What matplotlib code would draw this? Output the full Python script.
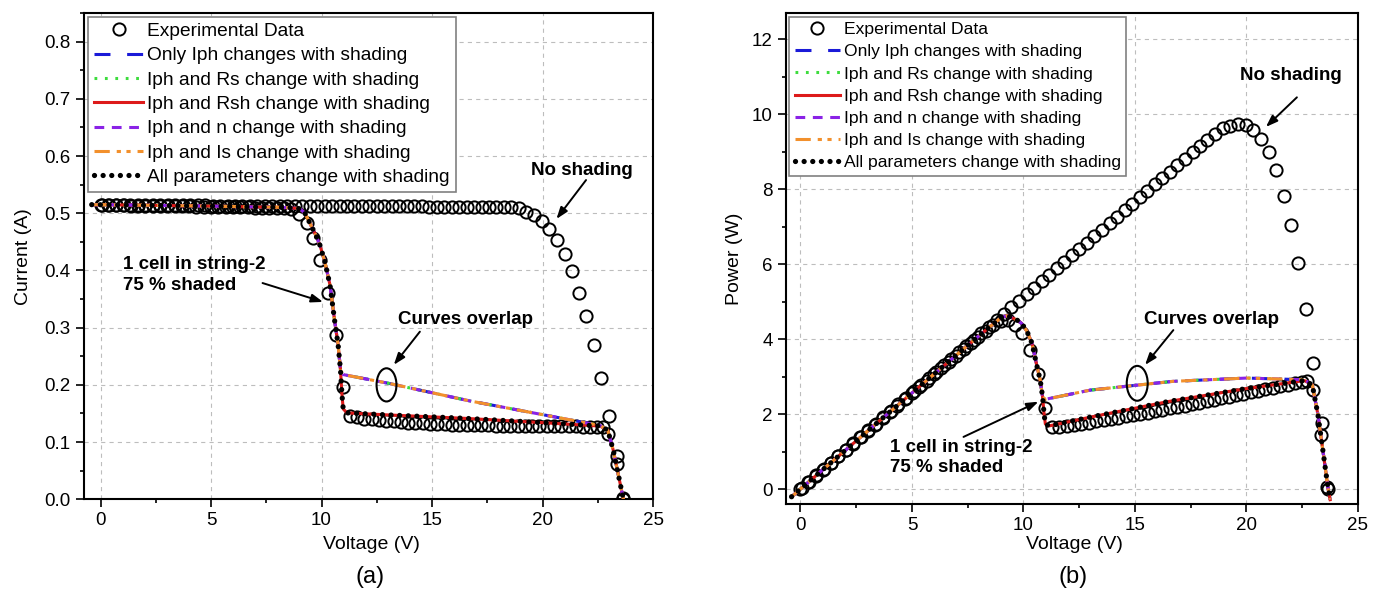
import matplotlib
matplotlib.use("Agg")
import matplotlib.pyplot as plt
from matplotlib.patches import Ellipse
from matplotlib.ticker import MultipleLocator, FormatStrFormatter
import numpy as np

plt.rcParams["font.family"] = ["Liberation Sans", "DejaVu Sans"]
plt.rcParams["lines.scale_dashes"] = False

# ---- experimental data, no shading ----
v_ns = [0.00, 0.34, 0.68, 1.01, 1.35, 1.69, 2.03, 2.37, 2.70, 3.04,
        3.38, 3.72, 4.06, 4.39, 4.73, 5.07, 5.41, 5.75, 6.08, 6.42,
        6.76, 7.10, 7.44, 7.77, 8.11, 8.45, 8.79, 9.13, 9.46, 9.80,
        10.14, 10.48, 10.82, 11.15, 11.49, 11.83, 12.17, 12.51, 12.84, 13.18,
        13.52, 13.86, 14.20, 14.53, 14.87, 15.21, 15.55, 15.89, 16.22, 16.56,
        16.90, 17.24, 17.58, 17.91, 18.25, 18.59,
        18.94, 19.27, 19.62, 19.96, 20.30, 20.64, 21.00, 21.34, 21.66, 21.99,
        22.32, 22.66, 23.00, 23.39, 23.62]
i_ns = [0.5145, 0.5145, 0.5145, 0.5145, 0.5145, 0.5145, 0.5145, 0.5145, 0.5140, 0.5140,
        0.5140, 0.5140, 0.5140, 0.5140, 0.5140, 0.5135, 0.5135, 0.5135, 0.5135, 0.5135,
        0.5130, 0.5130, 0.5130, 0.5130, 0.5130, 0.5130, 0.5128, 0.5128, 0.5128, 0.5125,
        0.5125, 0.5125, 0.5125, 0.5125, 0.5122, 0.5122, 0.5122, 0.5120, 0.5120, 0.5120,
        0.5120, 0.5118, 0.5118, 0.5118, 0.5115, 0.5115, 0.5115, 0.5115, 0.5113, 0.5113,
        0.5113, 0.5110, 0.5110, 0.5108, 0.5105, 0.5102,
        0.509, 0.503, 0.497, 0.486, 0.472, 0.453, 0.428, 0.399, 0.361, 0.320,
        0.270, 0.212, 0.146, 0.075, 0.002]

# ---- experimental data, 1 cell in string-2 75 % shaded ----
v_sh = [0.05, 0.38, 0.71, 1.04, 1.37, 1.70, 2.03, 2.36, 2.69, 3.02,
        3.35, 3.68, 4.01, 4.34, 4.67, 5.00, 5.33, 5.66, 5.99, 6.32,
        6.65, 6.98, 7.31, 7.64, 7.97, 8.30,
        8.64, 8.99, 9.32, 9.62, 9.95, 10.27, 10.65, 10.98, 11.28,
        11.61, 11.94, 12.27, 12.60, 12.93, 13.26, 13.59, 13.92, 14.25, 14.58,
        14.91, 15.24, 15.57, 15.90, 16.23, 16.56, 16.89, 17.22, 17.55, 17.88,
        18.21, 18.54, 18.87, 19.20, 19.53, 19.86, 20.19, 20.52, 20.85, 21.18,
        21.51, 21.84, 22.17, 22.48, 22.72,
        22.98, 23.36, 23.64]
i_sh = [0.5140, 0.5140, 0.5138, 0.5136, 0.5134, 0.5132, 0.5130, 0.5128, 0.5126, 0.5124,
        0.5122, 0.5120, 0.5118, 0.5116, 0.5114, 0.5112, 0.5110, 0.5108, 0.5106, 0.5104,
        0.5102, 0.5100, 0.5098, 0.5095, 0.5090, 0.5085,
        0.507, 0.498, 0.4825, 0.456, 0.418, 0.361, 0.288, 0.197, 0.146,
        0.1430, 0.1410, 0.1395, 0.1380, 0.1370, 0.1360, 0.1350, 0.1342, 0.1335, 0.1328,
        0.1322, 0.1316, 0.1311, 0.1306, 0.1302, 0.1298, 0.1295, 0.1292, 0.1290, 0.1288,
        0.1286, 0.1284, 0.1282, 0.1280, 0.1279, 0.1278, 0.1277, 0.1276, 0.1275, 0.1274,
        0.1273, 0.1272, 0.1271, 0.1270, 0.1270,
        0.115, 0.0615, 0.0]

# ---- model curves (two overlapping groups) ----
# lower group: Iph+Rsh, all parameters
v_lo = [-0.4, 1.0, 3.0, 5.0, 7.0, 8.0, 8.6, 9.02, 9.25, 9.47, 9.7, 9.92, 10.15, 10.38,
        10.6, 10.75, 10.86, 10.92, 10.98, 11.15, 13.0, 16.5, 20.0, 22.6, 22.95, 23.2,
        23.42, 23.65, 23.75]
i_lo = [0.515, 0.5145, 0.5135, 0.5125, 0.511, 0.5105, 0.5095, 0.508, 0.500, 0.483, 0.465,
        0.445, 0.415, 0.375, 0.31, 0.27, 0.225, 0.185, 0.158, 0.151, 0.1475, 0.1415, 0.134,
        0.128, 0.121, 0.086, 0.045, 0.002, -0.012]
# upper group: only Iph, Iph+Rs, Iph+n, Iph+Is
v_up = [-0.4, 1.0, 3.0, 5.0, 7.0, 8.0, 8.6, 9.02, 9.25, 9.47, 9.7, 9.92, 10.15, 10.38,
        10.6, 10.75, 10.86, 10.98, 13.0, 16.7, 20.0, 22.6, 22.95, 23.2, 23.42, 23.65, 23.75]
i_up = [0.515, 0.5145, 0.5135, 0.5125, 0.511, 0.5105, 0.5095, 0.508, 0.500, 0.483, 0.465,
        0.445, 0.415, 0.375, 0.31, 0.27, 0.225, 0.218, 0.203, 0.172, 0.148, 0.129, 0.121,
        0.086, 0.045, 0.002, -0.012]

labels = ["Only Iph changes with shading", "Iph and Rs change with shading",
          "Iph and Rsh change with shading", "Iph and n change with shading",
          "Iph and Is change with shading", "All parameters change with shading"]
groups = ["up", "up", "lo", "up", "up", "lo"]
colors = ["#1a1ad8", "#3ddc3d", "#dd1a1a", "#8a22e6", "#f2902c", "black"]
styles = [(0, (11.5, 12)), (0, (2, 5.5)), "-", (0, (7, 5.5)), (0, (11, 5, 3, 4, 3, 5)),
          (0, (0.01, 6.2))]
widths = [2.2, 2.2, 2.2, 2.2, 2.2, 3.8]

curves = {"lo": (np.array(v_lo), np.array(i_lo)), "up": (np.array(v_up), np.array(i_up))}

fig = plt.figure(figsize=(13.81, 5.94), dpi=100)
axA = fig.add_axes([84 / 1381, 1 - 499.3 / 594, 569 / 1381, 486.3 / 594])
axB = fig.add_axes([786 / 1381, 1 - 504 / 594, 572 / 1381, 491 / 594])


def draw(ax, power, legsize, lspace):
    vn, iN = np.array(v_ns), np.array(i_ns)
    vs, iS = np.array(v_sh), np.array(i_sh)
    yn = vn * iN if power else iN
    ys = vs * iS if power else iS
    ax.plot(vn, yn, "o", mfc="none", mec="black", ms=8.8, mew=1.4,
            label="Experimental Data", zorder=3)
    ax.plot(vs, ys, "o", mfc="none", mec="black", ms=8.8, mew=1.4, zorder=3)
    for lab, g, c, s, w in zip(labels, groups, colors, styles, widths):
        v, i = curves[g]
        y = v * i if power else i
        ln, = ax.plot(v, y, color=c, ls=s, lw=w, label=lab, zorder=4)
        if c == "black":
            ln.set_dash_capstyle("round")
    ax.grid(True, which="major", ls=(0, (3, 3)), color="#bdbdbd", lw=0.8, zorder=0)
    ax.set_axisbelow(True)
    ax.xaxis.set_major_locator(MultipleLocator(5))
    ax.xaxis.set_minor_locator(MultipleLocator(2.5))
    ax.tick_params(which="major", direction="out", length=5.5, width=1.2, labelsize=13.5, pad=4)
    ax.tick_params(which="minor", direction="out", length=3.2, width=1.2)
    for sp in ax.spines.values():
        sp.set_linewidth(1.5)
    leg = ax.legend(loc="upper left", fontsize=legsize, frameon=True, fancybox=False,
                    edgecolor="#808080", framealpha=1, borderpad=0.3, labelspacing=lspace,
                    handlelength=2.6, handletextpad=0.2, borderaxespad=0.2, numpoints=1)
    leg.get_frame().set_linewidth(1.2)


draw(axA, False, 13.8, 0.36)
axA.set_xlim(-0.75, 25)
axA.set_ylim(0, 0.85)
axA.yaxis.set_major_locator(MultipleLocator(0.1))
axA.yaxis.set_minor_locator(MultipleLocator(0.05))
axA.yaxis.set_major_formatter(FormatStrFormatter("%.1f"))
axA.set_xlabel("Voltage (V)", fontsize=14)
axA.set_ylabel("Current (A)", fontsize=14)
axA.xaxis.set_label_coords(0.505, -0.075)
axA.yaxis.set_label_coords(-0.092, 0.5)

bold = dict(fontsize=13.5, fontweight="bold", va="center")
arw = dict(arrowstyle="-|>,head_length=0.7,head_width=0.25", color="black", lw=1.4,
           shrinkA=0, shrinkB=0)
axA.text(21.8, 0.574, "No shading", ha="center", **bold)
axA.annotate("", xy=(20.63, 0.49), xytext=(21.97, 0.558), arrowprops=arw)
axA.text(1.0, 0.392, "1 cell in string-2\n75 % shaded", ha="left", linespacing=1.25, **bold)
axA.annotate("", xy=(10.07, 0.345), xytext=(7.33, 0.378), arrowprops=arw)
axA.text(16.53, 0.3135, "Curves overlap", ha="center", **bold)
axA.annotate("", xy=(13.27, 0.235), xytext=(14.45, 0.293), arrowprops=arw)
axA.add_patch(Ellipse((12.94, 0.20), 0.9, 0.058, fill=False, ec="black", lw=1.5, zorder=6))

draw(axB, True, 12.6, 0.4)
axB.set_xlim(-0.65, 25)
axB.set_ylim(-0.4, 12.7)
axB.yaxis.set_major_locator(MultipleLocator(2))
axB.yaxis.set_minor_locator(MultipleLocator(1))
axB.set_xlabel("Voltage (V)", fontsize=14)
axB.set_ylabel("Power (W)", fontsize=14)
axB.xaxis.set_label_coords(0.505, -0.066)
axB.yaxis.set_label_coords(-0.075, 0.5)

axB.text(22.0, 11.04, "No shading", ha="center", **bold)
axB.annotate("", xy=(20.87, 9.66), xytext=(22.26, 10.45), arrowprops=arw)
axB.text(18.41, 4.52, "Curves overlap", ha="center", **bold)
axB.annotate("", xy=(15.45, 3.31), xytext=(16.72, 4.24), arrowprops=arw)
axB.add_patch(Ellipse((15.1, 2.82), 0.94, 0.93, fill=False, ec="black", lw=1.5, zorder=6))
axB.text(4.0, 0.85, "1 cell in string-2\n75 % shaded", ha="left", linespacing=1.25, **bold)
axB.annotate("", xy=(10.67, 2.33), xytext=(7.31, 1.39), arrowprops=arw)

fig.text(370 / 1381, 1 - 577 / 594, "(a)", ha="center", va="center", fontsize=17)
fig.text(1073 / 1381, 1 - 577 / 594, "(b)", ha="center", va="center", fontsize=17)

fig.savefig("out.png", dpi=100)
